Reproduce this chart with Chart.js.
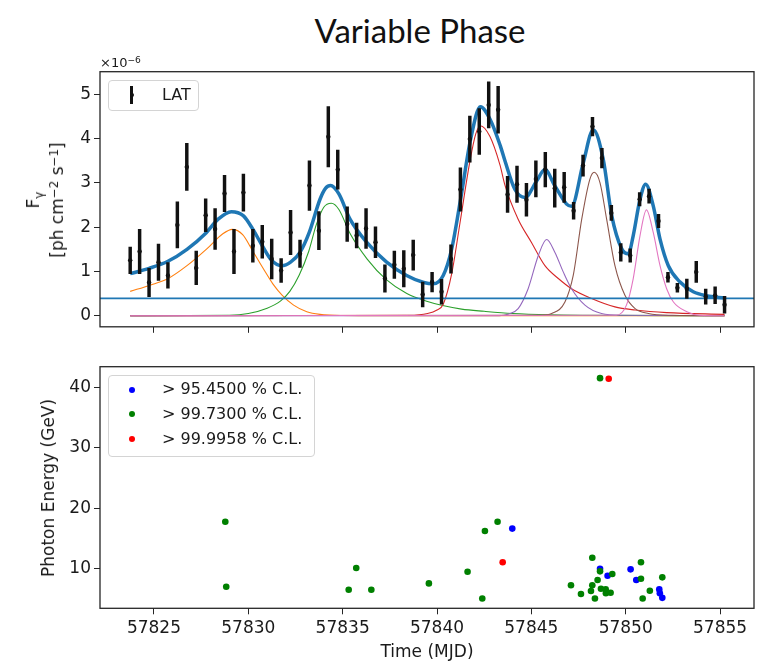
<!DOCTYPE html>
<html>
<head>
<meta charset="utf-8">
<script src="https://cdn.jsdelivr.net/npm/chart.js@4.4.1/dist/chart.umd.min.js"></script>
<style>
  body { margin: 0; background: #fff; }
  #fig { position: relative; width: 769px; height: 663px; background: #fff; overflow: hidden;
         font-family: 'DejaVu Sans', sans-serif; color: #1a1a1a; }
  canvas { position: absolute; left: 0; }
  .t { position: absolute; white-space: nowrap; }
  .c { transform: translate(-50%, -50%); }
  .rot { transform: translate(-50%, -50%) rotate(-90deg); text-align: center; }
  sup { font-size: 70%; vertical-align: 0.45em; line-height: 0; }
  sub { font-size: 70%; vertical-align: -0.3em; line-height: 0; }
  .legend { position: absolute; border: 1px solid #d4d4d4; border-radius: 4px; background: rgba(255,255,255,0.8); }
  .dot { position: absolute; width: 6px; height: 6px; border-radius: 50%; transform: translate(-50%, -50%); }
</style>
</head>
<body>
<div id="fig">
  <div class="t c" style="left:420px;top:30px;font-family:Lato,sans-serif;font-size:33px;color:#111">Variable Phase</div>

  <canvas id="fluxChart" width="769" height="340" style="top:0"></canvas>
  <canvas id="energyChart" width="769" height="323" style="top:340px"></canvas>

  <div class="t" style="left:100px;top:55px;font-size:13px">×10<sup>−6</sup></div>
  <div class="t rot" style="left:45px;top:200px;font-size:17px;line-height:24px">F<sub>γ</sub><br>[ph cm<sup>−2</sup> s<sup>−1</sup>]</div>
  <div class="t rot" style="left:48px;top:488px;font-size:17px">Photon Energy (GeV)</div>
  <div class="t c" style="left:427px;top:651px;font-size:17px">Time (MJD)</div>

  <!-- legend of the light curve -->
  <div class="legend" style="left:108px;top:80px;width:89px;height:29px"></div>
  <div class="t" style="left:130.4px;top:86px;width:2.8px;height:18px;background:#111"></div>
  <div class="dot" style="left:131.8px;top:95px;width:4px;height:4px;background:#111"></div>
  <div class="t" style="left:162px;top:85px;font-size:16px">LAT</div>

  <!-- legend of the photon energies -->
  <div class="legend" style="left:108px;top:375px;width:205px;height:80px"></div>
  <div class="dot" style="left:131.7px;top:389.5px;background:#0000ff"></div>
  <div class="dot" style="left:131.7px;top:414px;background:#008000"></div>
  <div class="dot" style="left:131.7px;top:439px;background:#ff0000"></div>
  <div class="t" style="left:162px;top:379px;font-size:16px">&gt; 95.4500 % C.L.</div>
  <div class="t" style="left:162px;top:404px;font-size:16px">&gt; 99.7300 % C.L.</div>
  <div class="t" style="left:162px;top:429px;font-size:16px">&gt; 99.9958 % C.L.</div>
</div>

<script>
// axis ranges and ticks
const timeRange = [57822.14, 57856.8];
const timeTicks = [57825, 57830, 57835, 57840, 57845, 57850, 57855];
const fluxRange = [-0.25, 5.51];
const fluxTicks = [0, 1, 2, 3, 4, 5];
const energyRange = [3.36, 43.5];
const energyTicks = [10, 20, 30, 40];

// LAT light curve (flux in 1e-6 ph cm^-2 s^-1)
const latTime = [57823.74, 57824.24, 57824.74, 57825.24, 57825.74, 57826.24, 57826.74, 57827.24,
  57827.74, 57828.24, 57828.74, 57829.24, 57829.74, 57830.24, 57830.74, 57831.24,
  57831.74, 57832.24, 57832.74, 57833.24, 57833.74, 57834.24, 57834.74, 57835.24,
  57835.74, 57836.24, 57836.74, 57837.24, 57837.74, 57838.24, 57838.74, 57839.24,
  57839.74, 57840.24, 57840.74, 57841.24, 57841.74, 57842.24, 57842.74, 57843.24,
  57843.74, 57844.24, 57844.74, 57845.24, 57845.74, 57846.24, 57846.74, 57847.24,
  57847.74, 57848.24, 57848.74, 57849.24, 57849.74, 57850.24, 57850.74, 57851.24,
  57851.74, 57852.24, 57852.74, 57853.24, 57853.74, 57854.24, 57854.74, 57855.24];
const latFlux = [1.25, 1.45, 0.75, 1.21, 0.91, 2.05, 3.36, 1.08,
  2.27, 1.96, 2.76, 1.45, 2.78, 1.58, 1.67, 1.28,
  1.02, 1.88, 1.40, 2.94, 1.92, 4.04, 3.30, 2.07,
  1.81, 1.97, 1.66, 0.84, 1.15, 1.06, 1.37, 0.48,
  0.76, 0.54, 1.28, 2.85, 3.99, 4.16, 4.76, 4.65,
  2.74, 2.97, 2.62, 3.09, 3.30, 2.88, 2.90, 2.37,
  3.39, 4.27, 3.56, 2.32, 1.43, 1.36, 2.63, 2.70,
  2.14, 0.87, 0.63, 0.61, 0.99, 0.43, 0.46, 0.25];
const latErr = [0.30, 0.50, 0.32, 0.41, 0.29, 0.52, 0.53, 0.38,
  0.37, 0.46, 0.41, 0.50, 0.42, 0.37, 0.37, 0.45,
  0.27, 0.50, 0.31, 0.56, 0.43, 0.68, 0.44, 0.39,
  0.28, 0.45, 0.35, 0.31, 0.31, 0.41, 0.34, 0.28,
  0.22, 0.28, 0.32, 0.49, 0.52, 0.52, 0.52, 0.53,
  0.41, 0.41, 0.37, 0.41, 0.39, 0.43, 0.34, 0.19,
  0.24, 0.21, 0.22, 0.17, 0.20, 0.15, 0.15, 0.16,
  0.15, 0.11, 0.10, 0.22, 0.24, 0.17, 0.19, 0.19];

// fitted model: constant level, flare components and their sum
const baseLevel = 0.39;
const fitTotal = [[57823.74, 0.95], [57824.74, 1.07], [57825.74, 1.23], [57826.75, 1.50], [57827.76, 1.87],
  [57828.4, 2.18], [57829.1, 2.35], [57829.73, 2.26], [57830.23, 1.96], [57830.74, 1.58], [57831.24, 1.25],
  [57831.77, 1.13], [57832.24, 1.21], [57832.74, 1.43], [57833.23, 1.88], [57833.8, 2.63], [57834.1, 2.88],
  [57834.36, 2.94], [57834.8, 2.75], [57835.39, 2.18], [57836.27, 1.66], [57837.33, 1.21], [57838.39, 0.91],
  [57839.3, 0.75], [57839.8, 0.72], [57840.33, 0.91], [57840.78, 1.51], [57841.25, 2.63], [57841.78, 3.98],
  [57842.3, 4.72], [57842.83, 4.42], [57843.36, 3.83], [57843.6, 3.50], [57844.13, 2.85], [57844.66, 2.67],
  [57845.28, 3.04], [57845.72, 3.30], [57846.25, 2.93], [57846.87, 2.52], [57847.13, 2.47], [57847.75, 3.45],
  [57848.28, 4.20], [57848.81, 3.53], [57849.26, 2.26], [57849.79, 1.51], [57850.14, 1.40], [57850.4, 1.81],
  [57850.76, 2.63], [57851.06, 2.97], [57851.46, 2.48], [57851.82, 1.73], [57852.26, 1.13], [57852.88, 0.76],
  [57853.58, 0.54], [57854.29, 0.45], [57855.24, 0.40]];
const fitOrange = [[57823.74, 0.55], [57824.8, 0.69], [57825.75, 0.84], [57826.75, 1.13], [57827.8, 1.51],
  [57828.65, 1.85], [57829.15, 1.95], [57829.7, 1.83], [57830.25, 1.45], [57830.8, 1.06], [57831.3, 0.72],
  [57831.8, 0.46], [57832.4, 0.24], [57833.1, 0.09], [57833.8, 0.03], [57835.0, 0.005], [57837.0, 0], [57855.24, 0]];
const fitGreen = [[57823.74, 0], [57829.0, 0.01], [57830.0, 0.05], [57831.0, 0.17], [57831.7, 0.33],
  [57832.2, 0.55], [57832.7, 0.92], [57833.2, 1.45], [57833.6, 2.05], [57834.0, 2.45], [57834.4, 2.54],
  [57834.8, 2.40], [57835.4, 1.85], [57836.3, 1.28], [57837.3, 0.82], [57838.4, 0.50], [57839.5, 0.32],
  [57840.3, 0.23], [57841.3, 0.15], [57842.5, 0.10], [57844.0, 0.05], [57846.0, 0.02], [57848.0, 0.01], [57855.24, 0]];
const fitRed = [[57823.74, 0], [57838.5, 0.01], [57839.5, 0.05], [57840.0, 0.13], [57840.33, 0.26],
  [57840.78, 0.95], [57841.22, 2.10], [57841.75, 3.50], [57842.05, 4.10], [57842.3, 4.29], [57842.8, 4.05],
  [57843.34, 3.40], [57843.6, 2.95], [57844.3, 2.18], [57845.0, 1.66], [57845.72, 1.13], [57846.43, 0.84],
  [57847.13, 0.61], [57848.19, 0.39], [57849.43, 0.20], [57850.5, 0.13], [57852.17, 0.07], [57855.24, 0.03]];
const fitPurple = [[57823.74, 0], [57843.3, 0], [57843.8, 0.04], [57844.3, 0.16], [57844.83, 0.61],
  [57845.37, 1.36], [57845.81, 1.72], [57846.25, 1.43], [57846.69, 0.99], [57847.13, 0.61], [57847.84, 0.24],
  [57848.72, 0.05], [57849.8, 0.01], [57855.24, 0]];
const fitBrown = [[57823.74, 0], [57845.5, 0.01], [57846.08, 0.05], [57846.78, 0.31], [57847.22, 0.91],
  [57847.67, 2.18], [57848.1, 3.08], [57848.33, 3.24], [57848.64, 3.00], [57848.99, 2.18], [57849.43, 1.13],
  [57849.96, 0.46], [57850.5, 0.16], [57851.2, 0.05], [57852.5, 0.01], [57855.24, 0]];
const fitPink = [[57823.74, 0], [57849.5, 0.01], [57850.04, 0.24], [57850.4, 0.84], [57850.76, 1.81],
  [57851.1, 2.39], [57851.46, 1.88], [57851.82, 1.13], [57852.17, 0.61], [57852.53, 0.31], [57853.24, 0.09],
  [57853.9, 0.01], [57855.24, 0]];

// photon arrival times and energies (GeV), split by confidence level
const photonsCL954 = [[57843.99, 16.6], [57848.64, 9.94], [57849.04, 8.77], [57850.26, 9.83],
  [57850.56, 8.05], [57851.78, 6.5], [57851.81, 5.85], [57851.94, 5.1]];
const photonsCL997 = [[57828.78, 17.74], [57828.83, 6.94], [57835.72, 10.05], [57835.32, 6.45],
  [57836.52, 6.45], [57839.57, 7.5], [57841.62, 9.44], [57842.4, 5.0], [57842.54, 16.2], [57843.21, 17.75],
  [57847.1, 7.2], [57847.63, 5.73], [57848.16, 6.23], [57848.23, 11.76], [57848.23, 7.2], [57848.37, 5.0],
  [57848.51, 8.05], [57848.64, 9.5], [57848.69, 6.6], [57848.94, 6.5], [57848.95, 5.85], [57849.2, 5.95],
  [57849.29, 9.05], [57850.81, 11.0], [57850.81, 8.27], [57850.9, 5.0], [57851.28, 6.28], [57851.94, 8.5],
  [57848.64, 41.6]];
const photonsCL99996 = [[57843.48, 11.0], [57849.1, 41.5]];

Chart.defaults.font.family = "'DejaVu Sans', sans-serif";
Chart.defaults.color = '#1a1a1a';

const pts = arr => arr.map(p => ({ x: p[0], y: p[1] }));

// black frame round the plotting area, like matplotlib spines
const frame = {
  id: 'frame',
  afterDatasetsDraw(chart) {
    const { ctx, chartArea: a } = chart;
    ctx.save();
    ctx.strokeStyle = '#262626';
    ctx.lineWidth = 1.3;
    ctx.strokeRect(a.left, a.top, a.right - a.left, a.bottom - a.top);
    ctx.restore();
  }
};

function timeAxis(showLabels, height) {
  return {
    type: 'linear', min: timeRange[0], max: timeRange[1], offset: false,
    afterBuildTicks: s => { s.ticks = timeTicks.map(v => ({ value: v })); },
    afterFit: s => { s.height = height; },
    grid: { drawOnChartArea: false, drawTicks: true, tickLength: 6, color: '#262626', offset: false },
    border: { display: false },
    ticks: { display: showLabels, maxRotation: 0, autoSkip: false, padding: 4,
             font: { size: 17 }, callback: v => String(v) }
  };
}

function valueAxis(range, ticks) {
  return {
    type: 'linear', min: range[0], max: range[1],
    afterBuildTicks: s => { s.ticks = ticks.map(v => ({ value: v })); },
    afterFit: s => { s.width = 100; },
    grid: { drawOnChartArea: false, drawTicks: true, tickLength: 6, color: '#262626' },
    border: { display: false },
    ticks: { padding: 3, font: { size: 17 }, callback: v => String(v) }
  };
}

function fitLine(arr, color, width, order) {
  return { type: 'line', data: pts(arr), borderColor: color, borderWidth: width, pointRadius: 0,
           cubicInterpolationMode: 'monotone', fill: false, order: order };
}

const common = {
  responsive: false,
  animation: false,
  events: [],
  plugins: { legend: { display: false }, tooltip: { enabled: false } }
};

new Chart(document.getElementById('fluxChart'), {
  type: 'scatter',
  data: {
    datasets: [
      { type: 'bar', data: latTime.map((t, i) => ({ x: t, y: [latFlux[i] - latErr[i], latFlux[i] + latErr[i]] })),
        backgroundColor: '#111', barThickness: 2.8, grouped: false, order: 1 },
      { type: 'scatter', data: latTime.map((t, i) => ({ x: t, y: latFlux[i] })),
        pointRadius: 2.2, backgroundColor: '#111', borderWidth: 0, order: 0 },
      fitLine(fitTotal, '#1f77b4', 3.5, 2),
      { type: 'line', data: [{ x: timeRange[0], y: baseLevel }, { x: timeRange[1], y: baseLevel }],
        borderColor: '#1f77b4', borderWidth: 1.8, pointRadius: 0, order: 3 },
      fitLine(fitPink, '#e377c2', 1.1, 4),
      fitLine(fitBrown, '#8c564b', 1.1, 5),
      fitLine(fitPurple, '#9467bd', 1.1, 6),
      fitLine(fitRed, '#d62728', 1.1, 7),
      fitLine(fitGreen, '#2ca02c', 1.1, 8),
      fitLine(fitOrange, '#ff7f0e', 1.1, 9)
    ]
  },
  options: {
    ...common,
    layout: { padding: { top: 71.7, left: 0, right: 15, bottom: 0 } },
    scales: { x: timeAxis(false, 11.7), y: valueAxis(fluxRange, fluxTicks) }
  },
  plugins: [frame]
});

const photonSet = (arr, color, order) => ({
  data: pts(arr), backgroundColor: color, borderWidth: 0, pointRadius: 3.3, order: order
});

new Chart(document.getElementById('energyChart'), {
  type: 'scatter',
  data: {
    datasets: [
      photonSet(photonsCL954, '#0000ff', 2),
      photonSet(photonsCL997, '#008000', 1),
      photonSet(photonsCL99996, '#ff0000', 0)
    ]
  },
  options: {
    ...common,
    layout: { padding: { top: 26.7, left: 0, right: 15, bottom: 0 } },
    scales: { x: timeAxis(true, 54.7), y: valueAxis(energyRange, energyTicks) }
  },
  plugins: [frame]
});
</script>
</body>
</html>
